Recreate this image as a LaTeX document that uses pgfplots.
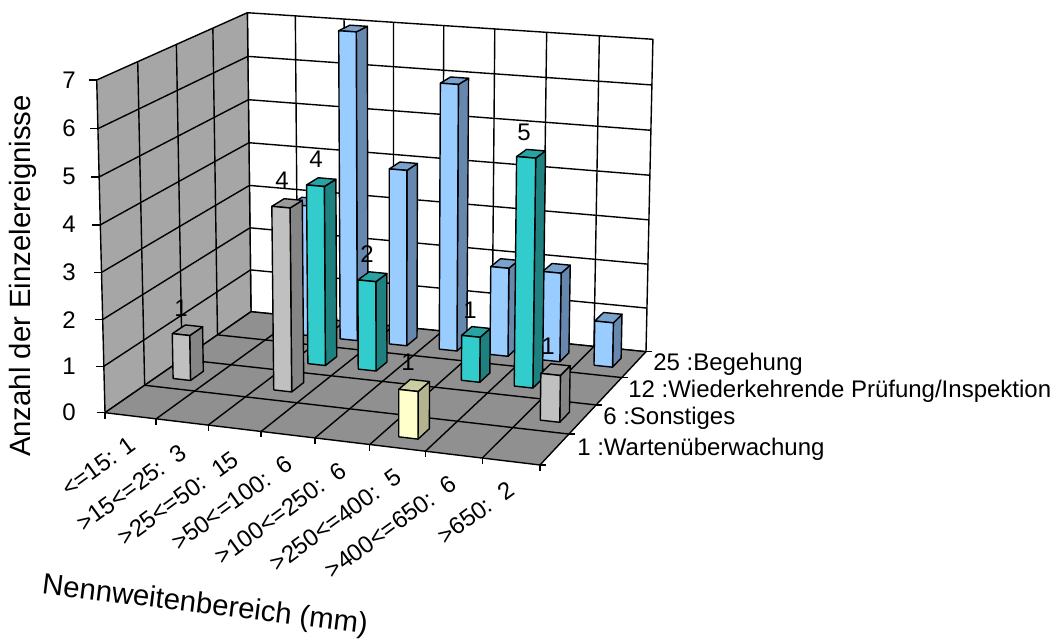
\documentclass[border=0pt]{standalone}
\usepackage{pgfplots}
\usepackage{pgfplotstable}
\usepackage{fontspec}
\setmainfont{Liberation Sans}
\pgfplotsset{compat=1.18}

% Events per nominal-diameter class (cat = 0..7), one table per depth row
\pgfplotstableread{
cat val
5 1
}\tblWarten
\pgfplotstableread{
cat val
0 1
2 4
7 1
}\tblSonstiges
\pgfplotstableread{
cat val
2 4
3 2
5 1
6 5
}\tblPruefung
\pgfplotstableread{
cat val
1 3
2 7
3 4
4 6
5 2
6 2
7 1
}\tblBegehung

\definecolor{wallL}{HTML}{A6A6A6}
\definecolor{floorC}{HTML}{909090}
\definecolor{blueF}{HTML}{99CCFF}
\definecolor{blueS}{HTML}{6788AE}
\definecolor{blueT}{HTML}{78A3CF}
\definecolor{tealF}{HTML}{33CCCC}
\definecolor{tealS}{HTML}{1F8080}
\definecolor{tealT}{HTML}{28A3A3}
\definecolor{grayF}{HTML}{C0C0C0}
\definecolor{grayS}{HTML}{858585}
\definecolor{grayT}{HTML}{9A9A9A}
\definecolor{yelF}{HTML}{FFFFCC}
\definecolor{yelS}{HTML}{B3B38F}
\definecolor{yelT}{HTML}{CCCCA3}

\tikzset{
  tx/.style={font=\fontsize{18}{20}\selectfont, inner sep=0pt},
  ttl/.style={font=\fontsize{22}{24}\selectfont, inner sep=0pt},
}
\def\lw{1.05pt}

% Perspective projection of (category, row, count) to image coordinates
\newcommand\prj[3]{%
  \pgfmathsetmacro\ps{(#1)/8}%
  \pgfmathsetmacro\pt{(#2)/4}%
  \pgfmathsetmacro\pz{(#3)/7}%
  \pgfmathsetmacro\pw{-0.06651*\ps+0.11912*\pt-0.028*\pz+1}%
  \pgfmathsetmacro\pu{(399.08*\ps+175.9*\pt-11.0*\pz+105)/\pw}%
  \pgfmathsetmacro\pv{(21.37*\ps-63.87*\pt-334.94*\pz+5*\ps*\pz+412.7)/\pw}%
}
\newcommand\addpt[3]{\prj{#1}{#2}{#3}\xdef\pts{\pts(\pu,\pv)}}
% Filled quadrilateral from four model points
\newcommand\quadface[5]{%
  \gdef\pts{}%
  \expandafter\addpt#2\expandafter\addpt#3\expandafter\addpt#4\expandafter\addpt#5\expandafter\addpt#2%
  \edef\tmp{\noexpand\addplot[mark=none,fill=#1,draw=black,line width=\lw,line join=round] coordinates {\pts};}\tmp
}
% Straight line between two model points
\newcommand\segment[2]{%
  \gdef\pts{}%
  \expandafter\addpt#1\expandafter\addpt#2%
  \edef\tmp{\noexpand\addplot[mark=none,draw=black,line width=\lw] coordinates {\pts};}\tmp
}
% Short tick leaving a model point by a fixed offset in image space
\newcommand\tickmark[5]{%
  \prj{#1}{#2}{#3}%
  \pgfmathsetmacro\qu{\pu+#4}\pgfmathsetmacro\qv{\pv+#5}%
  \edef\tmp{\noexpand\addplot[mark=none,draw=black,line width=\lw] coordinates {(\pu,\pv)(\qu,\qv)};}\tmp
}
% All bars of one depth row, left to right
\newcommand\series[5]{%
  \pgfplotstablegetrowsof{#1}\pgfmathtruncatemacro\nlast{\pgfplotsretval-1}%
  \foreach \i in {0,...,\nlast}{%
    \pgfplotstablegetelem{\i}{cat}\of{#1}\let\bc\pgfplotsretval
    \pgfplotstablegetelem{\i}{val}\of{#1}\let\bv\pgfplotsretval
    \pgfmathsetmacro\xa{\bc+0.325}\pgfmathsetmacro\xb{\bc+0.675}%
    \pgfmathsetmacro\ya{#2+0.325}\pgfmathsetmacro\yb{#2+0.675}%
    \edef\fa{{\xa}{\ya}{0}}\edef\fb{{\xb}{\ya}{0}}\edef\fc{{\xb}{\yb}{0}}%
    \edef\ta{{\xa}{\ya}{\bv}}\edef\tb{{\xb}{\ya}{\bv}}\edef\tc{{\xb}{\yb}{\bv}}\edef\td{{\xa}{\yb}{\bv}}%
    \quadface{#4}{\fb}{\fc}{\tc}{\tb}%
    \quadface{#5}{\ta}{\tb}{\tc}{\td}%
    \quadface{#3}{\fa}{\fb}{\tb}{\ta}%
  }%
}

\begin{document}
\begin{tikzpicture}
\begin{axis}[
  scale only axis, width=792pt, height=480.75pt,
  xmin=0, xmax=1056, ymin=0, ymax=641, y dir=reverse,
  hide axis, clip=false,
]
% Walls and floor
\def\wA{{0}{0}{0}}\def\wB{{8}{0}{0}}\def\wC{{8}{4}{0}}\def\wD{{0}{4}{0}}
\def\wE{{0}{0}{7}}\def\wF{{0}{4}{7}}\def\wG{{8}{4}{7}}
\quadface{white}{\wD}{\wC}{\wG}{\wF}
\quadface{wallL}{\wA}{\wD}{\wF}{\wE}
\quadface{floorC}{\wA}{\wB}{\wC}{\wD}
% Grid on the walls and the floor
\foreach \k in {1,...,6}{%
  \edef\sa{{0}{0}{\k}}\edef\sb{{0}{4}{\k}}\edef\sc{{8}{4}{\k}}%
  \segment{\sa}{\sb}\segment{\sb}{\sc}%
}
\foreach \k in {1,...,7}{%
  \edef\sa{{\k}{4}{0}}\edef\sb{{\k}{4}{7}}\edef\sc{{\k}{0}{0}}%
  \segment{\sa}{\sb}\segment{\sc}{\sa}%
}
\foreach \k in {1,...,3}{%
  \edef\sa{{0}{\k}{0}}\edef\sb{{0}{\k}{7}}\edef\sc{{8}{\k}{0}}%
  \segment{\sa}{\sb}\segment{\sa}{\sc}%
}
% Axis ticks
\foreach \k in {0,...,7}{\tickmark{0}{0}{\k}{-8}{0}}
\foreach \k in {0,...,8}{\tickmark{\k}{0}{0}{0}{6}}
\foreach \k in {0,...,4}{\tickmark{8}{\k}{0}{6}{0}}
% Bars, rear row first
\series{\tblBegehung}{3}{blueF}{blueS}{blueT}
\series{\tblPruefung}{2}{tealF}{tealS}{tealT}
\series{\tblSonstiges}{1}{grayF}{grayS}{grayT}
\series{\tblWarten}{0}{yelF}{yelS}{yelT}

% Value scale
\node[tx,anchor=east] at (axis cs:76,80) {7};
\node[tx,anchor=east] at (axis cs:76,128) {6};
\node[tx,anchor=east] at (axis cs:76,176) {5};
\node[tx,anchor=east] at (axis cs:76,224) {4};
\node[tx,anchor=east] at (axis cs:76,272) {3};
\node[tx,anchor=east] at (axis cs:76,320) {2};
\node[tx,anchor=east] at (axis cs:76,366) {1};
\node[tx,anchor=east] at (axis cs:76,412) {0};
% Bar values
\node[tx] at (axis cs:181,308) {1};
\node[tx] at (axis cs:282,180) {4};
\node[tx] at (axis cs:316,159) {4};
\node[tx] at (axis cs:367,254) {2};
\node[tx] at (axis cs:470,310) {1};
\node[tx] at (axis cs:524,132) {5};
\node[tx] at (axis cs:408,362) {1};
\node[tx] at (axis cs:548,346) {1};
% Nominal-diameter classes
\node[tx,rotate=36] at (axis cs:98.3,466.7) {<=15: 1};
\node[tx,rotate=36] at (axis cs:131.7,487.7) {>15<=25:\ \ 3};
\node[tx,rotate=36] at (axis cs:178.3,498.3) {>25<=50:\ \ 15};
\node[tx,rotate=36] at (axis cs:231.7,502.7) {>50<=100:\ \ 6};
\node[tx,rotate=36] at (axis cs:280.7,513.3) {>100<=250:\ \ 6};
\node[tx,rotate=36] at (axis cs:335.7,520) {>250<=400:\ \ 5};
\node[tx,rotate=36] at (axis cs:390.7,526.7) {>400<=650:\ \ 6};
\node[tx,rotate=36] at (axis cs:475.7,512.7) {>650:\ \ 2};
% Row names
\node[tx,anchor=west] at (axis cs:653,364) {25 :Begehung};
\node[tx,anchor=west] at (axis cs:628,391) {12 :Wiederkehrende Prüfung/Inspektion};
\node[tx,anchor=west] at (axis cs:603,418) {6 :Sonstiges};
\node[tx,anchor=west] at (axis cs:577,449) {1 :Wartenüberwachung};
% Axis titles
\node[ttl,rotate=90] at (axis cs:23,276) {Anzahl der Einzelereignisse};
\node[ttl,rotate=-7] at (axis cs:205,606) {Nennweitenbereich (mm)};
% Picture frame
\path (axis cs:0,0) -- (axis cs:1056,641);
\end{axis}
\end{tikzpicture}
\end{document}
